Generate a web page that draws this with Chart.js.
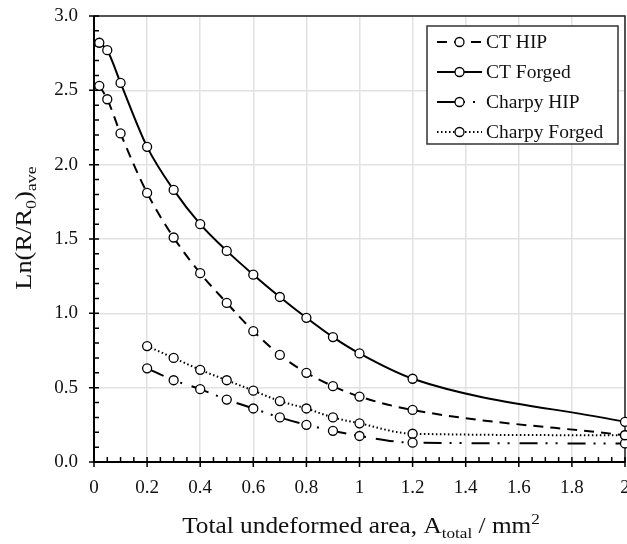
<!DOCTYPE html>
<html>
<head>
<meta charset="utf-8">
<script src="https://cdn.jsdelivr.net/npm/chart.js@4.4.1/dist/chart.umd.min.js"></script>
<style>
  html, body { margin: 0; padding: 0; background: #fff; overflow: hidden; }
  canvas { display: block; }
</style>
</head>
<body>
<canvas id="areaChart" width="627" height="544"></canvas>
<script>
// values
const ctAreas = [0.02, 0.05, 0.1, 0.2, 0.3, 0.4, 0.5, 0.6, 0.7, 0.8, 0.9, 1.0, 1.2, 2.0];
const ctHip = [2.53, 2.44, 2.21, 1.81, 1.51, 1.27, 1.07, 0.88, 0.72, 0.60, 0.51, 0.44, 0.35, 0.18];
const ctForged = [2.82, 2.77, 2.55, 2.12, 1.83, 1.60, 1.42, 1.26, 1.11, 0.97, 0.84, 0.73, 0.56, 0.27];

const charpyAreas = [0.2, 0.3, 0.4, 0.5, 0.6, 0.7, 0.8, 0.9, 1.0, 1.2, 2.0];
const charpyHip = [0.63, 0.55, 0.49, 0.42, 0.36, 0.30, 0.25, 0.21, 0.175, 0.13, 0.125];
const charpyForged = [0.78, 0.70, 0.62, 0.55, 0.48, 0.41, 0.36, 0.30, 0.26, 0.19, 0.18];

const xTicks = [0, 0.2, 0.4, 0.6, 0.8, 1, 1.2, 1.4, 1.6, 1.8, 2];
const yTicks = [0, 0.5, 1.0, 1.5, 2.0, 2.5, 3.0];

const FONT = "'Liberation Serif', 'DejaVu Serif', serif";

const pts = (xs, ys) => xs.map((x, i) => ({ x: x, y: ys[i] }));

function series(label, xs, ys, dash) {
  return {
    label: label,
    data: pts(xs, ys),
    borderColor: "#000",
    borderWidth: 2,
    borderDash: dash,
    pointRadius: 4.5,
    pointBorderWidth: 1.3,
    pointBackgroundColor: "#fff",
    pointBorderColor: "#000",
    cubicInterpolationMode: "monotone",
    fill: false,
    clip: 6,
  };
}

// rich text: parts are [text, sizeScale, baselineShift]; stretch widens it a bit
function drawRich(ctx, parts, cx, cy, size, stretch) {
  let total = 0;
  parts.forEach((p) => {
    ctx.font = size * p[1] + "px " + FONT;
    total += ctx.measureText(p[0]).width;
  });
  ctx.save();
  ctx.translate(cx, cy);
  ctx.scale(stretch, 1);
  let x = -total / 2;
  ctx.textAlign = "left";
  ctx.textBaseline = "alphabetic";
  parts.forEach((p) => {
    ctx.font = size * p[1] + "px " + FONT;
    ctx.fillText(p[0], x, p[2] * size);
    x += ctx.measureText(p[0]).width;
  });
  ctx.restore();
}

const decorPlugin = {
  id: "decor",
  beforeDatasetsDraw(chart) {
    const ctx = chart.ctx;
    const a = chart.chartArea;
    const xs = chart.scales.x;
    const ys = chart.scales.y;
    ctx.save();
    // frame
    ctx.strokeStyle = "#222";
    ctx.lineWidth = 1.5;
    ctx.strokeRect(a.left, a.top, a.right - a.left, a.bottom - a.top);
    ctx.strokeStyle = "#000";
    ctx.lineWidth = 2;
    ctx.beginPath();
    ctx.moveTo(a.left, a.top);
    ctx.lineTo(a.left, a.bottom);
    ctx.lineTo(a.right, a.bottom);
    ctx.stroke();
    // ticks
    ctx.lineWidth = 1.5;
    ctx.beginPath();
    for (let v = 0; v <= 2.0001; v += 0.05) {
      const px = xs.getPixelForValue(v);
      const major = Math.abs(v / 0.2 - Math.round(v / 0.2)) < 1e-6;
      ctx.moveTo(px, a.bottom + (major ? 5 : 0));
      ctx.lineTo(px, a.bottom - 5);
    }
    for (let v = 0; v <= 3.0001; v += 0.1) {
      const py = ys.getPixelForValue(v);
      const major = Math.abs(v / 0.5 - Math.round(v / 0.5)) < 1e-6;
      ctx.moveTo(a.left - (major ? 5 : 0), py);
      ctx.lineTo(a.left + 5, py);
    }
    ctx.stroke();
    // x tick labels (drawn here so the last one may run off the edge)
    ctx.fillStyle = "#111";
    ctx.font = "19px " + FONT;
    ctx.textAlign = "center";
    ctx.textBaseline = "middle";
    xTicks.forEach((v) => {
      ctx.fillText(String(v), xs.getPixelForValue(v), a.bottom + 26);
    });
    ctx.restore();
  },
  afterDraw(chart) {
    const ctx = chart.ctx;
    ctx.save();
    ctx.fillStyle = "#111";
    // x axis title
    drawRich(ctx, [
      ["Total undeformed area, A", 1, 0],
      ["total", 0.68, 0.22],
      [" / mm", 1, 0],
      ["2", 0.68, -0.38],
    ], 361, 533, 23, 1.1);
    // y axis title
    ctx.translate(31, 228);
    ctx.rotate(-Math.PI / 2);
    drawRich(ctx, [
      ["Ln(R/R", 1, 0],
      ["0", 0.68, 0.22],
      [")", 1, 0],
      ["ave", 0.68, 0.22],
    ], 0, 0, 23, 1.15);
    ctx.restore();

    // legend
    ctx.save();
    const box = { left: 427, top: 26, right: 618, bottom: 144 };
    ctx.fillStyle = "#fff";
    ctx.fillRect(box.left, box.top, box.right - box.left, box.bottom - box.top);
    ctx.strokeStyle = "#333";
    ctx.lineWidth = 1.5;
    ctx.strokeRect(box.left, box.top, box.right - box.left, box.bottom - box.top);
    chart.data.datasets.forEach((ds, i) => {
      const y = 42 + i * 30;
      ctx.strokeStyle = "#000";
      ctx.lineWidth = 2;
      ctx.setLineDash(ds.borderDash || []);
      ctx.beginPath();
      ctx.moveTo(437, y);
      ctx.lineTo(482, y);
      ctx.stroke();
      ctx.setLineDash([]);
      ctx.lineWidth = 1.3;
      ctx.fillStyle = "#fff";
      ctx.beginPath();
      ctx.arc(459.5, y, 4.5, 0, Math.PI * 2);
      ctx.fill();
      ctx.stroke();
      ctx.fillStyle = "#111";
      ctx.font = "19.5px " + FONT;
      ctx.textAlign = "left";
      ctx.textBaseline = "middle";
      ctx.fillText(ds.label, 486, y + 1);
    });
    ctx.restore();
  },
};

document.addEventListener("DOMContentLoaded", () => {
  const areaChart = document.getElementById("areaChart").getContext("2d");
  new Chart(areaChart, {
    type: "line",
    data: {
      datasets: [
        series("CT HIP", ctAreas, ctHip, [10, 7]),
        series("CT Forged", ctAreas, ctForged, []),
        series("Charpy HIP", charpyAreas, charpyHip, [18, 8, 2, 8, 2, 10]),
        series("Charpy Forged", charpyAreas, charpyForged, [1.5, 2.5]),
      ],
    },
    options: {
      responsive: false,
      animation: false,
      devicePixelRatio: 1,
      layout: { autoPadding: false, padding: { top: 16, right: 2, left: 0, bottom: 0 } },
      plugins: {
        legend: { display: false },
        tooltip: { enabled: false },
      },
      scales: {
        x: {
          type: "linear",
          min: 0,
          max: 2,
          afterBuildTicks: (s) => { s.ticks = xTicks.map((v) => ({ value: v })); },
          afterFit: (s) => { s.height = 82; },
          grid: { color: "#e2e2e2", lineWidth: 1.5, drawTicks: false },
          border: { display: false },
          ticks: { display: false },
        },
        y: {
          min: 0,
          max: 3,
          afterBuildTicks: (s) => { s.ticks = yTicks.map((v) => ({ value: v })); },
          afterFit: (s) => { s.width = 94; s.paddingTop = 0; s.paddingBottom = 0; },
          grid: { color: "#e2e2e2", lineWidth: 1.5, drawTicks: false },
          border: { display: false },
          ticks: {
            padding: 16,
            color: "#111",
            font: { family: FONT, size: 19 },
            callback: (v) => v.toFixed(1),
          },
        },
      },
    },
    plugins: [decorPlugin],
  });
});
</script>
</body>
</html>
